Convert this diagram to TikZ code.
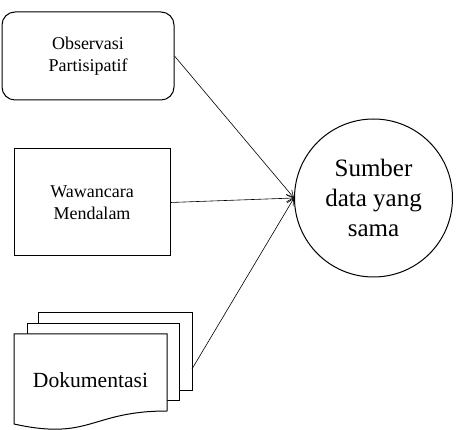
\documentclass[tikz,border=0pt]{standalone}
\usepackage{fontspec}
\setmainfont{Liberation Serif}
\usetikzlibrary{arrows.meta}
\begin{document}
\begin{tikzpicture}[x=1pt,y=-1pt,
  boxshape/.style={draw,line width=1pt,fill=white},
  boxtext/.style={align=center,font=\fontsize{18}{21.6}\selectfont},
  conn/.style={line width=0.6pt,-{Straight Barb[length=7pt,width=7pt]}}]
\useasboundingbox (0,0) rectangle (456,430);
% rounded box
\node[boxshape,rounded corners=13pt,minimum width=172pt,minimum height=88pt,boxtext] (obs) at (88,56) {Observasi\\Partisipatif};
% rectangle
\node[boxshape,minimum width=156pt,minimum height=107pt,boxtext] (waw) at (92,202.5) {Wawancara\\Mendalam};
% circle
\node[boxshape,circle,minimum size=158pt,inner sep=0pt,align=center,font=\fontsize{25}{30}\selectfont] (circ) at (373.5,198) {Sumber\\data yang\\sama};
% documents
\draw[boxshape] (38,313) rectangle (192,391);
\draw[boxshape] (27,324) rectangle (179,401);
\draw[boxshape] (14,334) -- (167,334) -- (167,411) .. controls (90.5,411) and (90.5,441) .. (14,424) -- cycle;
\node[font=\fontsize{21.6}{26}\selectfont] (dok) at (90.5,380) {Dokumentasi};
\coordinate (dokR) at (192,369);
% connectors
\draw[conn] (obs.east) -- (circ.west);
\draw[conn] (waw.east) -- (circ.west);
\draw[conn] (dokR) -- (circ.west);
\end{tikzpicture}
\end{document}
